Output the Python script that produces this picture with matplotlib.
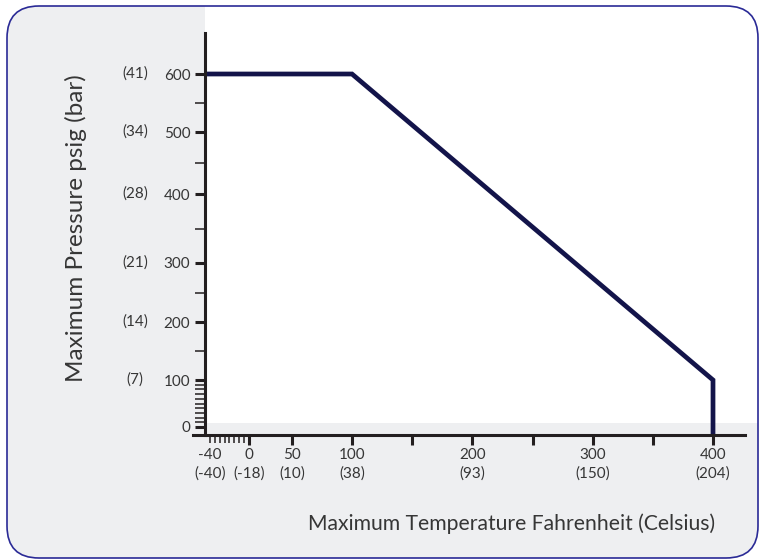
import numpy as np
import matplotlib
matplotlib.use("Agg")
import matplotlib.pyplot as plt
from matplotlib.patches import FancyBboxPatch, Rectangle
from matplotlib.transforms import IdentityTransform, blended_transform_factory
from matplotlib.ticker import FixedLocator, FixedFormatter

# pressure / temperature rating curve
temp_f = [-45, 100, 400, 400]
pressure_psig = [600, 600, 100, -17]   # last point runs down onto the axis line

x_major = [0, 50, 100, 150, 200, 250, 300, 350, 400]
x_major_labels = ["0\n(-18)", "50\n(10)", "100\n(38)", "", "200\n(93)", "",
                  "300\n(150)", "", "400\n(204)"]
x_minor = [-40, -35, -30, -25, -20, -15, -10, -5]
x_minor_labels = ["-40\n(-40)", "", "", "", "", "", "", ""]

y_major = [0, 100, 200, 300, 400, 500, 600]
y_major_labels = ["0", "100", "200", "300", "400", "500", "600"]
y_bar_labels = ["", "(7)", "(14)", "(21)", "(28)", "(34)", "(41)"]
y_minor = [10, 20, 30, 40, 50, 60, 70, 80, 90, 150, 250, 350, 450, 550]

# the printed scales are not linear: value -> pixel knots
X_KNOTS = [-100, -40, 0, 50, 100, 400, 600]
X_PIX = [151.5, 210, 249, 292, 352, 713, 953]
Y_KNOTS = [-100, 0, 100, 200, 300, 400, 500, 600, 800]
Y_PIX = [85, 132, 179, 237, 296, 365, 427, 485, 601]

W, H = 762, 559
AX_L, AX_B, AX_R, AX_T = 193, 124, 745, 526

TEXT = "#363636"
AXIS = "#231f20"
LINE = "#13144a"
GRAY = "#eeeff1"
BORDER = "#2a2a96"
TICK_FS = 11

plt.rcParams["font.family"] = ["Lato", "DejaVu Sans"]

fig = plt.figure(figsize=(W / 100, H / 100), dpi=100)

# background panel: grey card with white plotting field
card = FancyBboxPatch((7, 1), 751, 552, boxstyle="round,pad=0,rounding_size=32",
                      transform=IdentityTransform(), facecolor=GRAY,
                      edgecolor="none", zorder=-10)
fig.add_artist(card)
field = Rectangle((205, 136), 600, 500, transform=IdentityTransform(),
                  facecolor="white", edgecolor="none", zorder=-9)
fig.add_artist(field)
field.set_clip_path(card)
edge = FancyBboxPatch((7, 1), 751, 552, boxstyle="round,pad=0,rounding_size=32",
                      transform=IdentityTransform(), facecolor="none",
                      edgecolor=BORDER, linewidth=1.2, zorder=-8)
fig.add_artist(edge)

ax = fig.add_axes([AX_L / W, AX_B / H, (AX_R - AX_L) / W, (AX_T - AX_B) / H])
ax.set_facecolor("none")

ax.set_xscale("function", functions=(lambda v: np.interp(v, X_KNOTS, X_PIX),
                                     lambda u: np.interp(u, X_PIX, X_KNOTS)))
ax.set_yscale("function", functions=(lambda v: np.interp(v, Y_KNOTS, Y_PIX),
                                     lambda u: np.interp(u, Y_PIX, Y_KNOTS)))
ax.set_xlim(np.interp(AX_L, X_PIX, X_KNOTS), np.interp(AX_R, X_PIX, X_KNOTS))
ax.set_ylim(np.interp(AX_B, Y_PIX, Y_KNOTS), np.interp(AX_T, Y_PIX, Y_KNOTS))

ax.plot(temp_f, pressure_psig, color=LINE, lw=3.4, solid_joinstyle="miter",
        solid_capstyle="butt", zorder=2)

for side in ["top", "right"]:
    ax.spines[side].set_visible(False)
for side in ["left", "bottom"]:
    ax.spines[side].set_color(AXIS)
    ax.spines[side].set_linewidth(2.2)
    ax.spines[side].set_zorder(3)
ax.spines["left"].set_position(("axes", (205 - AX_L) / (AX_R - AX_L)))

ax.xaxis.set_major_locator(FixedLocator(x_major))
ax.xaxis.set_major_formatter(FixedFormatter(x_major_labels))
ax.xaxis.set_minor_locator(FixedLocator(x_minor))
ax.xaxis.set_minor_formatter(FixedFormatter(x_minor_labels))
ax.yaxis.set_major_locator(FixedLocator(y_major))
ax.yaxis.set_major_formatter(FixedFormatter(y_major_labels))
ax.yaxis.set_minor_locator(FixedLocator(y_minor))
ax.yaxis.set_minor_formatter(FixedFormatter([""] * len(y_minor)))

ax.tick_params(axis="x", which="major", direction="out", length=7.5, width=2.2,
               color=AXIS, labelcolor=TEXT, labelsize=TICK_FS, pad=2)
ax.tick_params(axis="x", which="minor", direction="out", length=6, width=1.1,
               color=AXIS, labelcolor=TEXT, labelsize=TICK_FS, pad=3.5)
ax.tick_params(axis="y", which="major", direction="out", length=7.5, width=2.2,
               color=AXIS, labelcolor=TEXT, labelsize=TICK_FS, pad=3)
ax.tick_params(axis="y", which="minor", direction="out", length=7.5, width=1.1,
               color=AXIS)
for lab in ax.get_xticklabels(which="both"):
    lab.set_linespacing(1.4)

# bar equivalents to the left of the psig labels
bar_tr = blended_transform_factory(IdentityTransform(), ax.transData)
for p, lab in zip(y_major, y_bar_labels):
    ax.text(135, p, lab, transform=bar_tr, ha="center", va="center",
            fontsize=TICK_FS, color=TEXT)

fig.text(76 / W, 1 - 228 / H, "Maximum Pressure psig (bar)", rotation=90,
         ha="center", va="center", fontsize=17.5, color=TEXT)
fig.text(512 / W, 1 - 524 / H, "Maximum Temperature Fahrenheit (Celsius)",
         ha="center", va="center", fontsize=15.2, color=TEXT)

fig.savefig("out.png", dpi=100)
